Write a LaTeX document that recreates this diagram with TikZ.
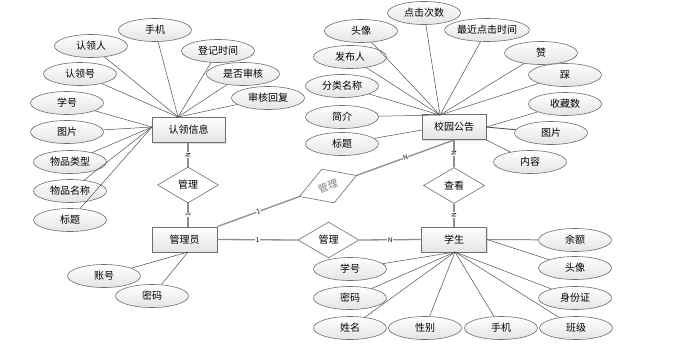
\documentclass[tikz,border=0pt]{standalone}
\usepackage{fontspec}
\newfontfamily\cjk{Noto Sans CJK SC}
\usetikzlibrary{shapes.geometric,shadows}
\definecolor{EdgeGray}{HTML}{6E6E6E}
\definecolor{WireGray}{HTML}{4F4F4F}
\definecolor{LinkGray}{HTML}{8E8E8E}
\definecolor{ShadeGray}{HTML}{E4E4E4}

\begin{document}
\begin{tikzpicture}[
      x=1pt,y=-1pt,
      font=\cjk\fontsize{10}{12}\selectfont,
      ent/.style={draw=EdgeGray,top color=white,bottom color=ShadeGray,line width=1pt,minimum width=65pt,minimum height=25pt,drop shadow={shadow xshift=1pt,shadow yshift=-1pt,opacity=0.25}},
      attr/.style={ellipse,draw=EdgeGray,top color=white,bottom color=ShadeGray,line width=0.6pt,minimum width=73pt,minimum height=23pt,inner sep=0pt},
      rel/.style={diamond,draw=EdgeGray,fill=white,line width=0.6pt,minimum width=61pt,minimum height=36pt,inner sep=0pt},
      lnk/.style={draw=LinkGray,line width=1.3pt},
      wire/.style={draw=WireGray,line width=0.5pt},
      card/.style={font=\cjk\fontsize{6.5}{6.5}\selectfont,fill=white,inner sep=0.4pt}
    ]
      \useasboundingbox (0,0) rectangle (677,343);
      % entities
      \node[ent,minimum width=73pt] (info) at (188.5,130) {认领信息};
      \node[ent] (admin) at (184.5,239.5) {管理员};
      \node[ent,minimum width=64pt] (notice) at (454,127) {校园公告};
      \node[ent] (stu) at (454,239.5) {学生};
      % relations
      \node[rel] (r1) at (188,185) {管理};
      \node[rel,rotate=20.3,text=gray] (r2) at (328,186) {管理};
      \node[rel] (r3) at (328.5,240) {管理};
      \node[rel] (r4) at (454,185.5) {查看};
      \draw[lnk] (info.south -| r1) -- node[card,rotate=90] {N} (r1.north);
      \draw[lnk] (r1.south) -- node[card,rotate=90] {1} (r1.south |- admin.north);
      \draw[lnk] (admin.north east) -- node[card,rotate=20.3] {1} (r2.west);
      \draw[lnk] (r2.east) -- node[card,rotate=20.3] {N} (notice.south);
      \draw[lnk] (admin.east) -- node[card] {1} (r3.west);
      \draw[lnk] (r3.east) -- node[card] {N} (stu.west);
      \draw[lnk] (notice.south) -- node[card,rotate=90] {N} (r4.north);
      \draw[lnk] (r4.south) -- node[card,rotate=90] {N} (stu.north);
      % 认领信息
      \coordinate (infoT) at (178,117);
      \coordinate (infoL) at (152,127);
      \node[attr] (a1) at (155,30) {手机};
      \node[attr] (a2) at (91,46) {认领人};
      \node[attr] (a3) at (218,51) {登记时间};
      \node[attr] (a4) at (243,74) {是否审核};
      \node[attr] (a5) at (268,98) {审核回复};
      \node[attr] (a6) at (80,74) {认领号};
      \node[attr] (a7) at (67,103) {学号};
      \node[attr] (a8) at (67,132) {图片};
      \node[attr] (a9) at (70,162) {物品类型};
      \node[attr] (a10) at (70,191) {物品名称};
      \node[attr] (a11) at (70,220) {标题};
      \draw[wire] (a1) -- (infoT);
      \draw[wire] (a2) -- (infoT);
      \draw[wire] (a3) -- (infoT);
      \draw[wire] (a4) -- (infoT);
      \draw[wire] (a5) -- (infoT);
      \draw[wire] (a6) -- (infoT);
      \draw[wire] (a7) -- (infoL);
      \draw[wire] (a8) -- (infoL);
      \draw[wire] (a9) -- (infoL);
      \draw[wire] (a10) -- (infoL);
      \draw[wire] (a11) -- (infoL);
      % 校园公告
      \coordinate (noticeT) at (440,115);
      \coordinate (noticeL) at (422,130);
      \coordinate (noticeR) at (486,127);
      \node[attr] (b1) at (424,13) {点击次数};
      \node[attr] (b2) at (361,31) {头像};
      \node[attr] (b3) at (487,30) {最近点击时间};
      \node[attr] (b4) at (350,57) {发布人};
      \node[attr] (b5) at (541,53) {赞};
      \node[attr] (b6) at (565,75) {踩};
      \node[attr] (b7) at (342,86) {分类名称};
      \node[attr] (b8) at (342,117) {简介};
      \node[attr] (b9) at (342,144) {标题};
      \node[attr] (b10) at (565,104) {收藏数};
      \node[attr] (b11) at (551,133) {图片};
      \node[attr] (b12) at (530,162) {内容};
      \draw[wire] (b1) -- (noticeT);
      \draw[wire] (b2) -- (noticeT);
      \draw[wire] (b3) -- (noticeT);
      \draw[wire] (b4) -- (noticeT);
      \draw[wire] (b5) -- (noticeT);
      \draw[wire] (b6) -- (noticeT);
      \draw[wire] (b7) -- (noticeT);
      \draw[wire] (b8) -- (noticeT);
      \draw[wire] (b9) -- (noticeL);
      \draw[wire] (b10) -- (noticeR);
      \draw[wire,line width=0.9pt] (b11) -- (noticeR);
      \draw[wire] (b12) -- (notice.south east);
      % 学生
      \coordinate (stuB) at (455,252);
      \node[attr] (c1) at (575,240) {余额};
      \node[attr] (c2) at (575,268) {头像};
      \node[attr] (c3) at (575,298) {身份证};
      \node[attr] (c4) at (576,328) {班级};
      \node[attr] (c5) at (501,328) {手机};
      \node[attr] (c6) at (425,328) {性别};
      \node[attr] (c7) at (350,328) {姓名};
      \node[attr] (c8) at (350,298) {密码};
      \node[attr] (c9) at (350,269) {学号};
      \draw[lnk,line width=1pt] (c1) -- (stu.east);
      \draw[wire] (c2) -- (stu.east);
      \draw[wire] (c3) -- (stuB);
      \draw[wire] (c4) -- (stuB);
      \draw[wire] (c5) -- (stuB);
      \draw[wire] (c6) -- (stuB);
      \draw[wire] (c7) -- (stuB);
      \draw[wire] (c8) -- (stuB);
      \draw[wire] (c9) -- (stuB);
      % 管理员
      \coordinate (adminB) at (188,252);
      \node[attr] (d1) at (104,276) {账号};
      \node[attr] (d2) at (152,296) {密码};
      \draw[wire] (d1) -- (adminB);
      \draw[wire] (d2) -- (adminB);
    \end{tikzpicture}
\end{document}
